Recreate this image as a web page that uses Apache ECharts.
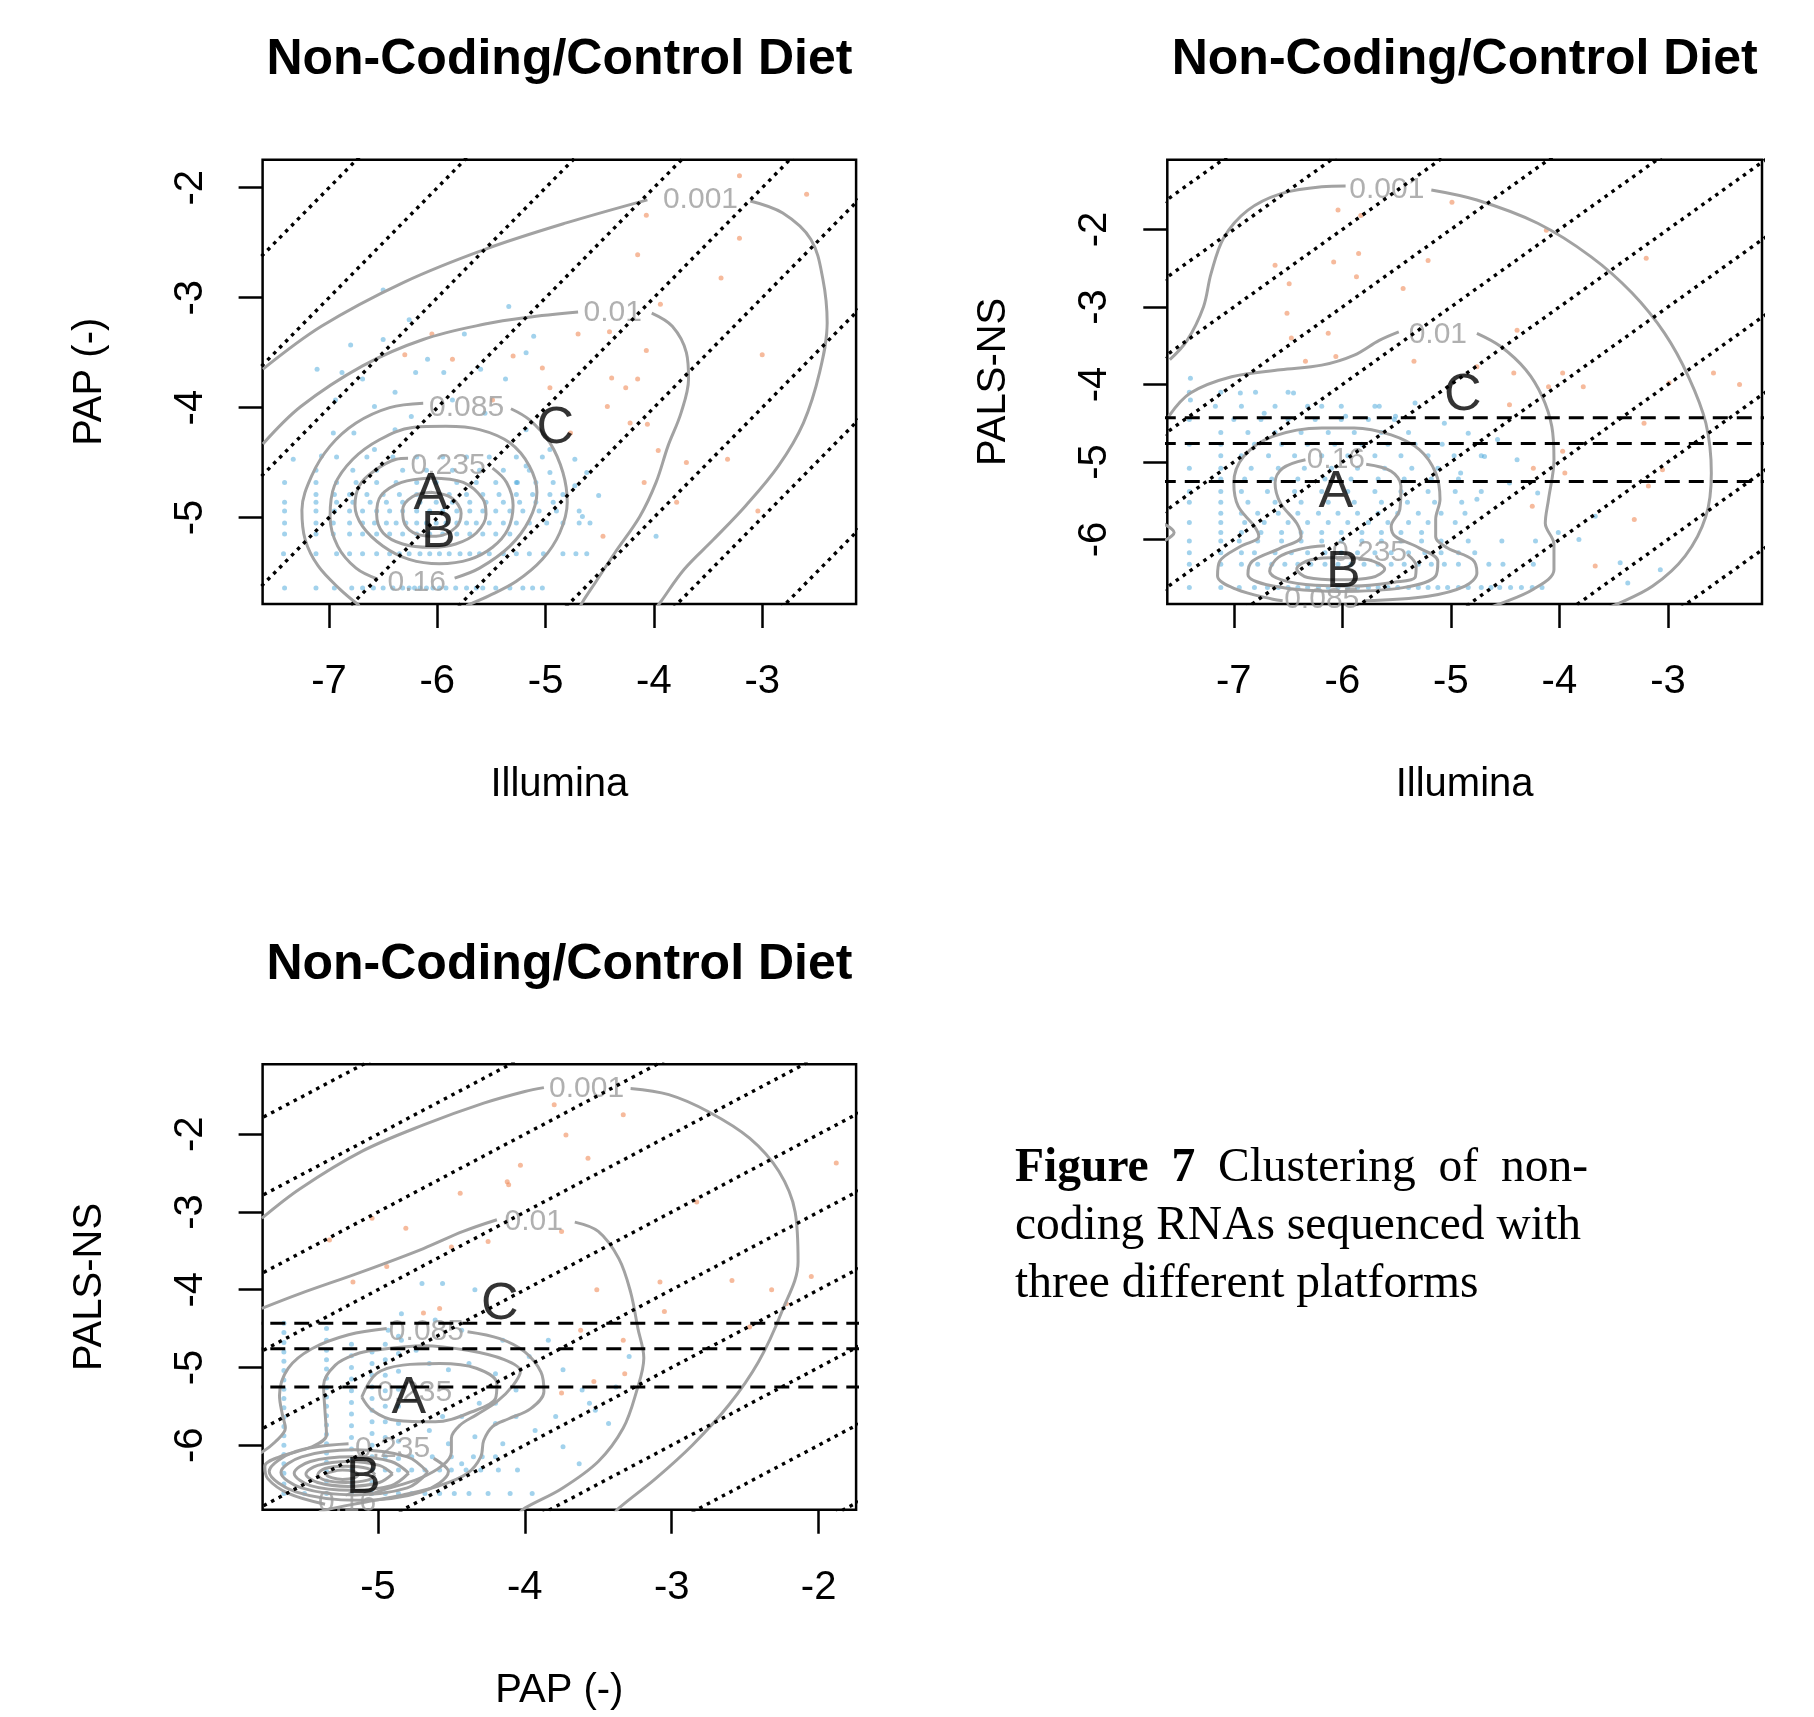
<!DOCTYPE html>
<html>
<head>
<meta charset="utf-8">
<script src="https://cdn.jsdelivr.net/npm/echarts@6/dist/echarts.min.js"></script>
<style>
html, body { margin: 0; padding: 0; background: #fff; }
#chart { position: absolute; left: 0; top: 0; width: 1814px; height: 1717px; }
.cap { position: absolute; left: 1015px; top: 1136px; width: 573px;
  font-family: "Liberation Serif", "Times New Roman", serif; font-size: 47.5px; line-height: 58px; color: #000; }
.cap .l1 { text-align: justify; text-align-last: justify; }
</style>
</head>
<body>
<div id="chart"></div>
<div class="cap">
  <div class="l1"><b>Figure 7</b> Clustering of non-</div>
  <div>coding RNAs sequenced with</div>
  <div>three different platforms</div>
</div>
<script>
var FONT = '"Liberation Sans", Arial, Helvetica, sans-serif';

// axis ranges and ticks
var illuminaRange = [-7.613, -2.133];
var papRange = [-5.785, -1.745];
var palsRange = [-6.83, -1.10];
var illuminaTicks = [-7, -6, -5, -4, -3];
var papTicks = [-5, -4, -3, -2];
var palsTicks = [-6, -5, -4, -3, -2];

// reference lines
var diagOffsets = [-6, -5, -4, -3, -2, -1, 0, 1, 2, 3, 4, 5, 6, 7];
var cutLevels = [-4.43, -4.76, -5.25];

// ---------- panel 1 : Illumina vs PAP ----------
var p1RowY = [-5.64, -5.33, -5.15, -5.05, -4.94, -4.86, -4.79, -4.68, -4.57, -4.45];
var p1RowX = [
  [-7.41,-7.12,-6.95,-6.79,-6.69,-6.59,-6.50,-6.41,-6.32,-6.26,-6.21,-6.16,-6.10,-6.04,-5.98,-5.92,-5.83,-5.73,-5.64,-5.58,-5.46,-5.33,-5.21,-5.12,-5.03],
  [-7.42,-7.12,-6.93,-6.81,-6.69,-6.56,-6.44,-6.35,-6.26,-6.16,-6.07,-5.98,-5.89,-5.79,-5.70,-5.61,-5.52,-5.39,-5.27,-5.15,-5.02,-4.84,-4.72,-4.62],
  [-7.41,-7.12,-6.96,-6.81,-6.69,-6.56,-6.44,-6.32,-6.19,-6.07,-5.95,-5.82,-5.70,-5.58,-5.46,-5.33],
  [-7.41,-7.12,-6.96,-6.81,-6.69,-6.58,-6.47,-6.38,-6.29,-6.19,-6.10,-6.01,-5.92,-5.82,-5.73,-5.64,-5.52,-5.39,-5.27,-5.15,-4.99,-4.84,-4.69,-4.59],
  [-7.41,-7.12,-6.95,-6.81,-6.69,-6.56,-6.44,-6.32,-6.19,-6.07,-5.95,-5.82,-5.70,-5.58,-5.46,-5.33,-5.21,-5.06,-4.90,-4.69],
  [-7.41,-7.12,-6.93,-6.78,-6.62,-6.47,-6.32,-6.16,-6.01,-5.86,-5.70,-5.55,-5.39,-5.24,-5.09,-4.93],
  [-7.12,-6.95,-6.81,-6.65,-6.50,-6.35,-6.19,-5.89,-5.73,-5.58,-5.43,-5.27,-5.12,-4.96,-4.84],
  [-7.41,-7.12,-6.93,-6.75,-6.56,-6.38,-6.19,-6.01,-5.82,-5.64,-5.46,-5.27,-5.09,-4.93],
  [-7.12,-6.78,-6.56,-6.32,-6.10,-5.86,-5.61,-5.39,-5.15],
  [-6.93,-6.65,-6.41,-6.19,-5.95,-5.73,-5.52,-5.27,-5.03]
];
var p1Blue = [[-6.50,-2.93],[-6.80,-3.43],[-6.50,-3.38],[-6.26,-3.20],[-5.75,-3.33],[-5.34,-3.08],[-5.11,-3.35],
  [-6.09,-3.56],[-5.94,-3.68],[-5.60,-3.65],[-6.20,-3.68],[-5.37,-3.74],[-5.18,-3.50],[-7.11,-3.65],[-6.88,-3.68],
  [-6.69,-3.74],[-6.39,-3.86],[-6.58,-3.99],[-6.94,-3.93],[-6.77,-4.23],[-6.96,-4.23],[-7.07,-4.44],[-7.33,-4.47],
  [-6.39,-4.20],[-6.58,-4.38],[-6.24,-4.08],[-5.86,-3.93],[-5.56,-4.05],[-5.18,-4.20],[-4.96,-4.38],[-4.73,-4.47],
  [-4.62,-4.59],[-4.96,-4.59],[-5.18,-4.53],[-4.73,-4.71],[-4.51,-4.80],[-3.98,-5.17],[-4.66,-4.99],[-5.26,-4.68]];
var p1Orange = [[-3.21,-1.89],[-2.59,-2.06],[-4.07,-2.25],[-4.15,-2.61],[-3.21,-2.46],[-3.38,-2.82],[-3.94,-3.06],
  [-4.41,-3.31],[-4.07,-3.48],[-3.00,-3.52],[-5.03,-3.64],[-4.39,-3.73],[-4.15,-3.74],[-4.26,-3.82],[-4.43,-3.99],
  [-4.77,-4.23],[-4.22,-4.14],[-4.06,-4.15],[-3.96,-4.39],[-3.32,-4.47],[-3.70,-4.50],[-4.09,-4.68],[-3.79,-4.86],
  [-3.04,-4.94],[-4.47,-5.17],[-6.05,-3.33],[-6.30,-3.52],[-5.86,-3.56],[-5.30,-3.53],[-4.70,-3.33],[-5.49,-3.93],[-4.96,-3.82]];
var p1Contours = [
  [[-7.61,-3.65],[-7.07,-3.26],[-6.31,-2.86],[-5.56,-2.56],[-4.81,-2.32],[-4.06,-2.11]],
  [[-3.11,-2.12],[-2.81,-2.23],[-2.55,-2.47],[-2.44,-2.83],[-2.40,-3.23],[-2.47,-3.68],[-2.62,-4.14],[-2.85,-4.53],[-3.15,-4.89],[-3.45,-5.20],[-3.72,-5.47],[-3.94,-5.77],[-4.00,-5.85]],
  [[-7.61,-4.33],[-7.26,-3.99],[-6.69,-3.62],[-6.13,-3.38],[-5.56,-3.24],[-5.18,-3.18],[-4.70,-3.13]],
  [[-4.02,-3.14],[-3.83,-3.26],[-3.70,-3.50],[-3.68,-3.74],[-3.75,-4.05],[-3.87,-4.35],[-3.98,-4.68],[-4.13,-4.99],[-4.36,-5.32],[-4.54,-5.59],[-4.66,-5.77],[-4.70,-5.85]],
  [[-5.32,-4.01],[-5.15,-4.11],[-4.96,-4.32],[-4.84,-4.59],[-4.80,-4.86],[-4.87,-5.14],[-5.03,-5.38],[-5.27,-5.58],[-5.52,-5.71],[-5.73,-5.80]],
  [[-6.13,-3.96],[-6.44,-4.00],[-6.75,-4.14],[-6.99,-4.35],[-7.16,-4.62],[-7.25,-4.93],[-7.22,-5.20],[-7.10,-5.44],[-6.90,-5.65],[-6.72,-5.80]],
  [[-5.84,-5.55],[-5.61,-5.46],[-5.33,-5.26],[-5.15,-5.02],[-5.08,-4.77],[-5.15,-4.53],[-5.33,-4.32],[-5.61,-4.20],[-5.92,-4.17],[-6.23,-4.18],[-6.53,-4.29],[-6.78,-4.47],[-6.95,-4.71],[-6.99,-4.99],[-6.92,-5.26],[-6.75,-5.46],[-6.55,-5.56]],
  [[-5.49,-4.55],[-5.36,-4.68],[-5.30,-4.89],[-5.35,-5.11],[-5.49,-5.27],[-5.70,-5.38],[-5.98,-5.42],[-6.26,-5.38],[-6.50,-5.26],[-6.69,-5.08],[-6.76,-4.89],[-6.72,-4.71],[-6.59,-4.58],[-6.38,-4.47],[-6.27,-4.46]],
  [[-6.06,-4.64],[-5.76,-4.68],[-5.58,-4.83],[-5.55,-4.97],[-5.64,-5.14],[-5.83,-5.24],[-6.06,-5.27],[-6.32,-5.24],[-6.50,-5.14],[-6.56,-4.97],[-6.52,-4.80],[-6.33,-4.68],[-6.06,-4.64]],
  [[-6.06,-4.77],[-5.87,-4.82],[-5.78,-4.96],[-5.83,-5.09],[-6.01,-5.17],[-6.19,-5.15],[-6.30,-5.06],[-6.32,-4.93],[-6.23,-4.81],[-6.06,-4.77]]
];
var p1Labels = [['0.001',-3.57,-2.11],['0.01',-4.38,-3.14],['0.085',-5.73,-4.00],['0.235',-5.90,-4.53],['0.16',-6.19,-5.59]];
var p1Letters = [['A',-6.06,-4.79],['B',-5.99,-5.14],['C',-4.91,-4.19]];

// ---------- panel 2 : Illumina vs PALS-NS ----------
var p2RowY = [-6.62,-6.32,-6.17,-6.02,-5.91,-5.78,-5.66,-5.52,-5.38,-5.22,-5.08,-4.92,-4.77,-4.62,-4.45,-4.28,-4.10];
var p2RowX = [
  [-7.41,-7.12,-6.95,-6.81,-6.69,-6.59,-6.50,-6.41,-6.32,-6.22,-6.13,-6.04,-5.95,-5.86,-5.76,-5.67,-5.58,-5.49,-5.39,-5.30,-5.21,-5.12,-5.03,-4.93,-4.84,-4.72,-4.63,-4.55,-4.45,-4.35,-4.25,-4.16],
  [-7.41,-7.12,-6.93,-6.78,-6.65,-6.53,-6.41,-6.29,-6.16,-6.04,-5.92,-5.80,-5.67,-5.55,-5.43,-5.30,-5.18,-5.06,-4.93,-4.65,-4.52,-4.24],
  [-7.41,-7.12,-6.93,-6.81,-6.62,-6.47,-6.32,-6.16,-6.01,-5.86,-5.70,-5.55,-5.39,-5.24,-5.09,-4.93,-4.78],
  [-7.41,-7.12,-6.95,-6.78,-6.56,-6.38,-6.19,-6.01,-5.82,-5.64,-5.46,-5.27,-5.09,-4.84,-4.53,-4.22],
  [-7.12,-6.93,-6.75,-6.56,-6.38,-6.19,-6.01,-5.82,-5.64,-5.46,-5.27],
  [-7.41,-7.12,-6.90,-6.72,-6.50,-6.32,-6.13,-5.95,-5.76,-5.58,-5.39,-5.21,-4.96],
  [-7.12,-6.93,-6.78,-6.59,-6.41,-6.22,-6.04,-5.86,-5.67,-5.49,-5.30,-5.09,-4.87],
  [-7.41,-7.12,-6.87,-6.62,-6.38,-6.13,-5.89,-5.64,-5.40,-5.15,-4.90],
  [-7.41,-7.12,-6.93,-6.69,-6.44,-6.19,-5.95,-5.70,-5.46,-5.21,-4.96,-4.72],
  [-7.12,-6.90,-6.65,-6.41,-6.16,-5.92,-5.67,-5.43,-5.18,-4.93],
  [-7.41,-7.12,-6.84,-6.59,-6.35,-6.10,-5.86,-5.61,-5.36,-5.12],
  [-7.12,-6.93,-6.68,-6.44,-6.19,-5.95,-5.70,-5.46,-5.21,-4.97,-4.72],
  [-7.41,-7.12,-6.81,-6.56,-6.32,-6.07,-5.82,-5.58,-5.33,-5.08],
  [-7.12,-6.87,-6.62,-6.38,-6.13,-5.89,-5.64,-5.39],
  [-7.41,-7.00,-6.75,-6.50,-6.25,-6.01,-5.76,-5.52],
  [-6.93,-6.62,-6.32,-6.01,-5.70],
  [-7.41,-7.12,-6.80,-6.50]
];
var p2Blue = [[-7.40,-3.92],[-7.40,-4.20],[-7.17,-4.28],[-6.94,-4.11],[-6.72,-4.37],[-6.45,-4.11],[-6.19,-4.28],
  [-5.97,-4.41],[-5.66,-4.28],[-5.51,-4.41],[-5.33,-4.24],[-5.06,-4.50],[-4.84,-4.63],[-4.57,-4.71],[-4.69,-4.93],
  [-4.39,-4.97],[-4.46,-5.27],[-4.91,-5.14],[-4.76,-5.48],[-4.20,-5.40],[-4.01,-5.91],[-3.82,-6.00],[-3.67,-5.70],
  [-3.44,-6.30],[-3.07,-6.39],[-3.37,-6.56]];
var p2Orange = [[-6.04,-1.75],[-5.83,-1.82],[-4.99,-1.65],[-6.62,-2.46],[-6.08,-2.42],[-5.85,-2.31],[-5.21,-2.40],
  [-6.49,-2.70],[-5.87,-2.61],[-5.44,-2.76],[-4.12,-2.01],[-3.20,-2.37],[-6.13,-3.34],[-6.51,-3.08],[-6.47,-3.40],
  [-6.34,-3.70],[-6.06,-3.64],[-5.34,-3.70],[-4.76,-3.77],[-4.39,-3.30],[-4.42,-3.85],[-3.97,-3.85],[-4.10,-4.03],
  [-3.78,-4.03],[-2.99,-3.98],[-2.58,-3.85],[-2.34,-4.00],[-3.22,-4.50],[-4.46,-4.26],[-3.97,-4.86],[-3.95,-5.14],
  [-4.24,-5.08],[-3.05,-5.10],[-3.31,-5.74],[-3.67,-6.34],[-3.18,-5.31],[-4.25,-5.57]];
var p2Contours = [
  [[-7.59,-3.68],[-7.43,-3.43],[-7.28,-3.00],[-7.21,-2.57],[-7.09,-2.10],[-6.87,-1.75],[-6.57,-1.54],[-6.19,-1.45],[-5.97,-1.44]],
  [[-5.18,-1.49],[-4.76,-1.62],[-4.20,-1.92],[-3.71,-2.35],[-3.33,-2.82],[-3.03,-3.34],[-2.81,-3.90],[-2.65,-4.50],[-2.60,-5.14],[-2.65,-5.70],[-2.84,-6.21],[-3.14,-6.60],[-3.48,-6.84],[-3.60,-6.90]],
  [[-7.70,-5.76],[-7.55,-5.91],[-7.70,-6.06]],
  [[-7.60,-4.41],[-7.40,-4.11],[-7.02,-3.90],[-6.57,-3.81],[-6.19,-3.75],[-5.89,-3.62],[-5.66,-3.43],[-5.48,-3.32]],
  [[-4.76,-3.34],[-4.54,-3.51],[-4.31,-3.81],[-4.16,-4.15],[-4.07,-4.54],[-4.05,-4.97],[-4.10,-5.48],[-4.13,-5.79],[-4.05,-6.06],[-4.05,-6.39],[-4.24,-6.64],[-4.57,-6.84],[-4.70,-6.90]],
  [[-5.80,-6.79],[-5.21,-6.73],[-4.87,-6.60],[-4.76,-6.43],[-4.80,-6.26],[-5.03,-6.11],[-5.14,-5.96],[-5.14,-5.74],[-5.10,-5.48],[-5.14,-5.14],[-5.29,-4.84],[-5.55,-4.65],[-5.89,-4.56],[-6.19,-4.56],[-6.64,-4.67],[-6.91,-4.93],[-7.00,-5.27],[-6.96,-5.57],[-6.81,-5.83],[-6.77,-5.96],[-6.94,-6.09],[-7.13,-6.28],[-7.15,-6.47],[-6.98,-6.64],[-6.64,-6.77],[-6.55,-6.79]],
  [[-5.78,-5.03],[-5.55,-5.12],[-5.46,-5.31],[-5.47,-5.61],[-5.55,-5.83],[-5.51,-5.96],[-5.29,-6.11],[-5.12,-6.28],[-5.14,-6.47],[-5.44,-6.62],[-6.04,-6.67],[-6.64,-6.60],[-6.87,-6.45],[-6.83,-6.28],[-6.57,-6.11],[-6.38,-5.96],[-6.42,-5.79],[-6.57,-5.53],[-6.62,-5.27],[-6.55,-5.08],[-6.34,-4.97]],
  [[-5.40,-6.19],[-5.32,-6.34],[-5.33,-6.49],[-5.52,-6.55],[-5.89,-6.60],[-6.25,-6.59],[-6.56,-6.52],[-6.67,-6.41],[-6.59,-6.23],[-6.38,-6.12],[-6.16,-6.08]],
  [[-6.02,-6.23],[-5.76,-6.26],[-5.61,-6.38],[-5.73,-6.49],[-6.02,-6.52],[-6.32,-6.49],[-6.42,-6.38],[-6.29,-6.26],[-6.02,-6.23]]
];
var p2Labels = [['0.001',-5.59,-1.49],['0.01',-5.12,-3.36],['0.16',-6.06,-4.97],['0.235',-5.75,-6.17],['0.085',-6.19,-6.78]];
var p2Letters = [['A',-6.06,-5.40],['B',-5.99,-6.43],['C',-4.89,-4.15]];

// ---------- panel 3 : PAP vs PALS-NS ----------
var p3ColX = [-5.64, -5.35, -5.18, -5.04, -4.95, -4.86];
var p3ColY = [
  [-4.43,-4.55,-4.68,-4.80,-4.92,-5.04,-5.16,-5.28,-5.40,-5.52,-5.64,-5.76,-5.88,-6.00,-6.12,-6.24,-6.36,-6.50,-6.62],
  [-4.50,-4.65,-4.78,-4.90,-5.02,-5.14,-5.26,-5.38,-5.50,-5.62,-5.74,-5.86,-5.98,-6.10,-6.22,-6.34,-6.46,-6.62],
  [-4.70,-4.85,-5.00,-5.15,-5.30,-5.45,-5.60,-5.75,-5.90,-6.05,-6.20,-6.32,-6.48,-6.62],
  [-4.80,-4.95,-5.10,-5.25,-5.40,-5.55,-5.70,-5.85,-6.00,-6.15,-6.32,-6.48,-6.62],
  [-4.70,-4.90,-5.10,-5.30,-5.50,-5.70,-5.90,-6.15,-6.32,-6.62],
  [-4.60,-4.82,-5.05,-5.28,-5.50,-5.72,-5.95,-6.17,-6.32,-6.62]
];
var p3RowY = [-6.62, -6.32, -6.15];
var p3RowX = [
  [-5.50,-4.77,-4.68,-4.58,-4.48,-4.38,-4.25,-4.10,-3.95],
  [-4.77,-4.68,-4.58,-4.50,-4.40,-4.30,-4.18,-4.05],
  [-4.77,-4.63,-4.50,-4.35,-4.20]
];
var p3Blue = [[-4.70,-3.92],[-4.56,-3.92],[-4.34,-4.00],[-4.84,-4.31],[-4.61,-4.39],[-4.43,-4.52],[-4.15,-4.65],
  [-3.97,-4.86],[-4.38,-4.95],[-4.20,-5.08],[-4.06,-5.29],[-3.74,-5.03],[-3.61,-5.29],[-3.52,-5.55],[-3.43,-5.72],
  [-3.79,-5.63],[-3.93,-5.81],[-4.06,-5.63],[-4.20,-5.72],[-4.34,-5.89],[-3.74,-6.02],[-3.63,-6.24],[-3.56,-5.46],
  [-3.38,-5.25],[-3.29,-4.86],[-3.84,-4.65],[-4.52,-5.98],[-4.43,-6.24],[-4.29,-6.15],[-4.15,-5.98],[-4.65,-5.81],
  [-4.56,-5.63],[-4.43,-5.63],[-4.31,-5.46],[-4.20,-5.46],[-4.52,-5.03],[-4.65,-4.95],[-4.74,-4.78],[-4.84,-4.65],[-4.93,-4.52]];
var p3Orange = [[-3.80,-1.62],[-3.33,-1.75],[-3.72,-2.01],[-4.03,-2.40],[-3.57,-2.31],[-4.11,-2.65],[-4.44,-2.76],
  [-5.04,-3.08],[-4.81,-3.21],[-4.50,-3.45],[-4.25,-3.38],[-4.94,-3.70],[-5.33,-3.36],[-5.17,-3.90],[-3.75,-3.25],
  [-2.83,-2.87],[-2.59,-3.88],[-2.05,-3.83],[-1.88,-2.37],[-2.32,-4.00],[-2.22,-4.18],[-3.08,-3.90],[-3.51,-4.00],
  [-3.05,-4.28],[-3.33,-4.65],[-3.62,-4.52],[-3.32,-5.08],[-3.75,-5.33],[-4.69,-4.30],[-4.58,-4.24],[-2.47,-4.48],
  [-3.53,-5.18],[-4.12,-2.61]];
var p3Contours = [
  [[-5.79,-3.08],[-5.53,-2.70],[-5.11,-2.22],[-4.69,-1.88],[-4.28,-1.60],[-4.00,-1.45],[-3.87,-1.40]],
  [[-3.28,-1.41],[-3.02,-1.49],[-2.75,-1.71],[-2.47,-2.05],[-2.27,-2.48],[-2.16,-3.00],[-2.14,-3.64],[-2.25,-4.28],[-2.41,-4.93],[-2.61,-5.48],[-2.86,-6.00],[-3.11,-6.43],[-3.36,-6.81],[-3.40,-6.90]],
  [[-5.79,-4.24],[-5.53,-4.05],[-5.11,-3.77],[-4.69,-3.47],[-4.42,-3.25],[-4.19,-3.10]],
  [[-3.66,-3.13],[-3.50,-3.25],[-3.36,-3.60],[-3.28,-4.03],[-3.23,-4.50],[-3.19,-4.88],[-3.24,-5.31],[-3.33,-5.78],[-3.50,-6.21],[-3.75,-6.56],[-4.00,-6.81],[-4.05,-6.90]],
  [[-4.94,-4.50],[-5.20,-4.58],[-5.45,-4.76],[-5.61,-5.01],[-5.67,-5.36],[-5.65,-5.61],[-5.63,-5.78],[-5.70,-5.96],[-5.79,-6.09],[-5.85,-6.13]],
  [[-4.39,-4.54],[-4.17,-4.63],[-4.00,-4.80],[-3.89,-5.06],[-3.87,-5.31],[-3.96,-5.53],[-4.11,-5.66],[-4.22,-5.76],[-4.28,-5.94],[-4.30,-6.15],[-4.39,-6.36],[-4.58,-6.52],[-4.83,-6.64],[-5.11,-6.74],[-5.33,-6.82],[-5.40,-6.86]],
  [[-5.06,-6.64],[-4.97,-6.58],[-4.72,-6.43],[-4.56,-6.26],[-4.50,-6.09],[-4.50,-5.91],[-4.44,-5.74],[-4.33,-5.61],[-4.19,-5.44],[-4.08,-5.23],[-4.03,-5.05],[-4.14,-4.90],[-4.39,-4.78],[-4.69,-4.72],[-5.03,-4.78],[-5.15,-4.83],[-5.29,-4.97],[-5.37,-5.23],[-5.36,-5.57],[-5.35,-5.87],[-5.45,-6.02],[-5.67,-6.15],[-5.77,-6.27],[-5.75,-6.43],[-5.61,-6.62],[-5.36,-6.76]],
  [[-5.11,-5.38],[-5.01,-5.08],[-4.83,-4.97],[-4.58,-4.95],[-4.33,-5.01],[-4.19,-5.21],[-4.20,-5.40],[-4.36,-5.57],[-4.61,-5.70],[-4.88,-5.68],[-5.04,-5.55],[-5.11,-5.38]],
  [[-4.62,-6.17],[-4.52,-6.34],[-4.70,-6.60],[-5.13,-6.71],[-5.56,-6.60],[-5.74,-6.34],[-5.56,-6.08],[-5.20,-5.98]],
  [[-4.66,-6.35],[-4.80,-6.15],[-5.16,-6.06],[-5.52,-6.15],[-5.66,-6.35],[-5.52,-6.55],[-5.16,-6.64],[-4.80,-6.55],[-4.66,-6.35]],
  [[-4.79,-6.36],[-4.91,-6.21],[-5.18,-6.15],[-5.46,-6.21],[-5.57,-6.36],[-5.46,-6.52],[-5.18,-6.58],[-4.91,-6.52],[-4.79,-6.36]],
  [[-4.90,-6.37],[-4.99,-6.26],[-5.20,-6.21],[-5.41,-6.26],[-5.49,-6.37],[-5.41,-6.48],[-5.20,-6.53],[-4.99,-6.48],[-4.90,-6.37]],
  [[-5.02,-6.38],[-5.07,-6.30],[-5.22,-6.27],[-5.36,-6.30],[-5.41,-6.38],[-5.36,-6.45],[-5.22,-6.48],[-5.07,-6.45],[-5.02,-6.38]],
  [[-5.13,-6.38],[-5.16,-6.34],[-5.24,-6.32],[-5.31,-6.34],[-5.35,-6.38],[-5.31,-6.42],[-5.24,-6.44],[-5.16,-6.42],[-5.13,-6.38]]
];
var p3Labels = [['0.001',-3.58,-1.41],['0.01',-3.94,-3.13],['0.085',-4.67,-4.54],['0.235',-4.75,-5.33],['0.235',-4.90,-6.04],['0.16',-5.21,-6.74]];
var p3Letters = [['A',-4.79,-5.40],['B',-5.10,-6.43],['C',-4.17,-4.19]];

// ---------- helpers ----------
function rowsToPoints(ys, xs) {
  var out = [];
  ys.forEach(function (y, i) { xs[i].forEach(function (x) { out.push([x, y]); }); });
  return out;
}
function colsToPoints(xs, ys) {
  var out = [];
  xs.forEach(function (x, i) { ys[i].forEach(function (y) { out.push([x, y]); }); });
  return out;
}
function scatter(gi, pts, color) {
  return { type: 'scatter', xAxisIndex: gi, yAxisIndex: gi, data: pts, symbolSize: 5, silent: true, z: 1,
    itemStyle: { color: color } };
}
function textMarks(gi, items, size, color, z) {
  return { type: 'scatter', xAxisIndex: gi, yAxisIndex: gi, symbolSize: 1, silent: true, z: z,
    itemStyle: { color: 'transparent' },
    data: items.map(function (d) { return { name: d[0], value: [d[1], d[2]] }; }),
    label: { show: true, position: 'inside', formatter: '{b}', fontSize: size, fontFamily: FONT, color: color } };
}
function contourLines(gi, lines) {
  return lines.map(function (pts) {
    return { type: 'line', xAxisIndex: gi, yAxisIndex: gi, data: pts, symbol: 'none', smooth: 0.35, silent: true, z: 2,
      lineStyle: { color: '#a2a2a2', width: 3 } };
  });
}
function diagLines(gi) {
  return diagOffsets.map(function (c) {
    return { type: 'line', xAxisIndex: gi, yAxisIndex: gi, data: [[-9, -9 + c], [0, c]], symbol: 'none', silent: true, z: 5,
      lineStyle: { color: '#000', width: 3.4, type: [3.5, 5] } };
  });
}
function cutLines(gi) {
  return cutLevels.map(function (v) {
    return { type: 'line', xAxisIndex: gi, yAxisIndex: gi, data: [[-9, v], [0, v]], symbol: 'none', silent: true, z: 5,
      lineStyle: { color: '#000', width: 3, type: [15, 9] } };
  });
}
function xAx(gi, range, ticks, name) {
  return { type: 'value', gridIndex: gi, min: range[0], max: range[1], name: name, nameLocation: 'middle', nameGap: 161,
    nameTextStyle: { fontSize: 40, lineHeight: 40, fontFamily: FONT, color: '#000' },
    axisLine: { show: false, onZero: false }, splitLine: { show: false },
    axisTick: { show: true, length: 24, customValues: ticks, lineStyle: { color: '#000', width: 2.5 } },
    axisLabel: { customValues: ticks, fontSize: 40, lineHeight: 40, fontFamily: FONT, color: '#000', margin: 58 } };
}
function yAx(gi, range, ticks, name) {
  return { type: 'value', gridIndex: gi, min: range[0], max: range[1], name: name, nameLocation: 'middle', nameGap: 153, nameRotate: 90,
    nameTextStyle: { fontSize: 40, lineHeight: 40, fontFamily: FONT, color: '#000' },
    axisLine: { show: false, onZero: false }, splitLine: { show: false },
    axisTick: { show: true, length: 24, customValues: ticks, lineStyle: { color: '#000', width: 2.5 } },
    axisLabel: { customValues: ticks, rotate: 90, fontSize: 40, lineHeight: 40, fontFamily: FONT, color: '#000', margin: 52 } };
}
function title(x, y) {
  return { type: 'text', x: x, y: y, silent: true,
    style: { text: 'Non-Coding/Control Diet', fontSize: 50, fontWeight: 'bold', fontFamily: FONT, fill: '#000', align: 'center', verticalAlign: 'middle' } };
}

var BLUE = 'rgba(60,160,215,0.6)';
var ORANGE = 'rgba(240,140,90,0.75)';

var series = [];
// panel 1
series.push(scatter(0, rowsToPoints(p1RowY, p1RowX).concat(p1Blue), BLUE));
series.push(scatter(0, p1Orange, ORANGE));
series = series.concat(contourLines(0, p1Contours));
series.push(textMarks(0, p1Labels, 30, '#9c9c9c', 3));
series.push(textMarks(0, p1Letters, 52, '#000', 4));
series = series.concat(diagLines(0));
// panel 2
series.push(scatter(1, rowsToPoints(p2RowY, p2RowX).concat(p2Blue), BLUE));
series.push(scatter(1, p2Orange, ORANGE));
series = series.concat(contourLines(1, p2Contours));
series.push(textMarks(1, p2Labels, 30, '#9c9c9c', 3));
series.push(textMarks(1, p2Letters, 52, '#000', 4));
series = series.concat(diagLines(1), cutLines(1));
// panel 3
series.push(scatter(2, colsToPoints(p3ColX, p3ColY).concat(rowsToPoints(p3RowY, p3RowX), p3Blue), BLUE));
series.push(scatter(2, p3Orange, ORANGE));
series = series.concat(contourLines(2, p3Contours));
series.push(textMarks(2, p3Labels, 30, '#9c9c9c', 3));
series.push(textMarks(2, p3Letters, 52, '#000', 4));
series = series.concat(diagLines(2), cutLines(2));

var gridStyle = { show: true, borderColor: '#000', borderWidth: 2.5, backgroundColor: 'transparent' };
var option = {
  animation: false,
  backgroundColor: '#fff',
  grid: [
    Object.assign({ left: 262.6, top: 159.7, width: 593.5, height: 444.2 }, gridStyle),
    Object.assign({ left: 1167.3, top: 159.7, width: 594.7, height: 444.2 }, gridStyle),
    Object.assign({ left: 262.6, top: 1064.3, width: 593.5, height: 445.4 }, gridStyle)
  ],
  xAxis: [
    xAx(0, illuminaRange, illuminaTicks, 'Illumina'),
    xAx(1, illuminaRange, illuminaTicks, 'Illumina'),
    xAx(2, papRange, papTicks, 'PAP (-)')
  ],
  yAxis: [
    yAx(0, papRange, papTicks, 'PAP (-)'),
    yAx(1, palsRange, palsTicks, 'PALS-NS'),
    yAx(2, palsRange, palsTicks, 'PALS-NS')
  ],
  graphic: [title(559.4, 60), title(1464.7, 60), title(559.4, 965)],
  series: series
};

var chart = echarts.init(document.getElementById('chart'), null, { renderer: 'canvas' });
chart.setOption(option);
</script>
</body>
</html>
